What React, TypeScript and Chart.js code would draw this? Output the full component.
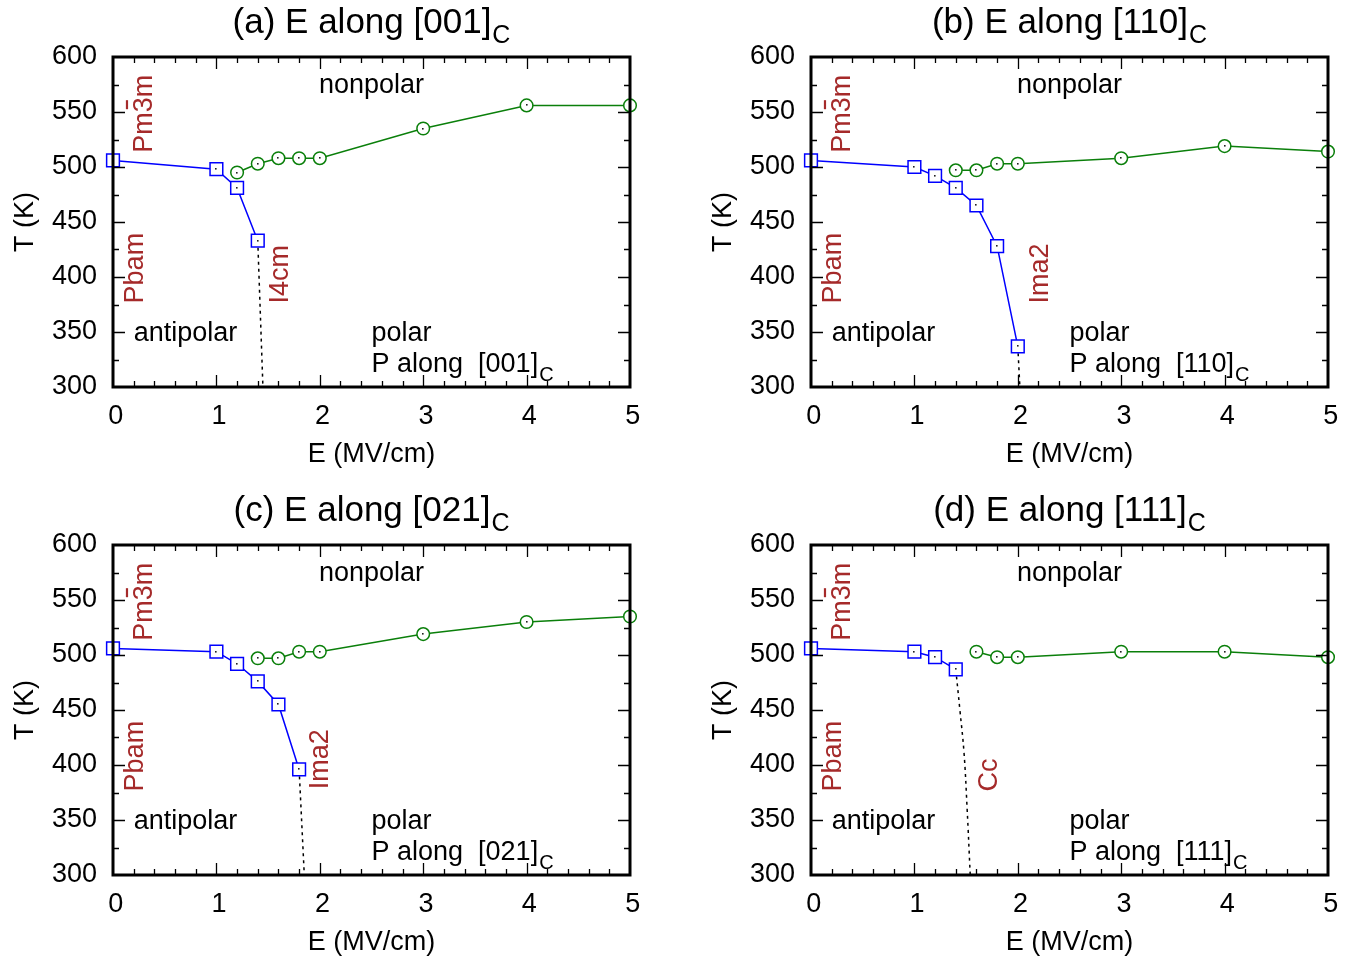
import React, { useEffect, useRef } from "react";
import { Chart, registerables } from "chart.js";

Chart.register(...registerables);

// ---------- data ----------
// Panel (a) E along [001]C
const aBlueE = [0, 1, 1.2, 1.4];
const aBlueT = [506, 498, 481, 433];
const aGreenE = [1.2, 1.4, 1.6, 1.8, 2, 3, 4, 5];
const aGreenT = [495, 503, 508, 508, 508, 535, 556, 556];
const aDotE = [1.4, 1.45];
const aDotT = [433, 300];

// Panel (b) E along [110]C
const bBlueE = [0, 1, 1.2, 1.4, 1.6, 1.8, 2];
const bBlueT = [506, 500, 492, 481, 465, 428, 337];
const bGreenE = [1.4, 1.6, 1.8, 2, 3, 4, 5];
const bGreenT = [497, 497, 503, 503, 508, 519, 514];
const bDotE = [2, 2.02];
const bDotT = [337, 300];

// Panel (c) E along [021]C
const cBlueE = [0, 1, 1.2, 1.4, 1.6, 1.8];
const cBlueT = [506, 503, 492, 476, 455, 396];
const cGreenE = [1.4, 1.6, 1.8, 2, 3, 4, 5];
const cGreenT = [497, 497, 503, 503, 519, 530, 535];
const cDotE = [1.8, 1.85];
const cDotT = [396, 300];

// Panel (d) E along [111]C
const dBlueE = [0, 1, 1.2, 1.4];
const dBlueT = [506, 503, 498, 487];
const dGreenE = [1.6, 1.8, 2, 3, 4, 5];
const dGreenT = [503, 498, 498, 503, 503, 498];
const dDotE = [1.4, 1.44, 1.48, 1.51, 1.54];
const dDotT = [487, 450, 411, 360, 300];

const E_MIN = 0;
const E_MAX = 5;
const E_STEP = 1;
const E_MINOR = 0.2;
const T_MIN = 300;
const T_MAX = 600;
const T_STEP = 50;
const T_MINOR = 25;

const TITLES = ["(a) E along [001]", "(b) E along [110]", "(c) E along [021]", "(d) E along [111]"];
const POLAR_DIRS = ["P along  [001]", "P along  [110]", "P along  [021]", "P along  [111]"];
const PHASE_LABELS = ["I4cm", "Ima2", "Ima2", "Cc"];

// ---------- styles ----------
const FONT = '"Liberation Sans", Arial, Helvetica, sans-serif';
const BLUE = "#0000ff";
const GREEN = "#0a7f0a";
const BROWN = "#a52a2a";

const W = 664;
const H = 473;

type Ann = {
  text: string;
  x: number;
  y: number;
  rot?: boolean;
  align?: CanvasTextAlign;
  color?: string;
  sub?: string;
  bar?: [string, string];
};

const pts = (xs: number[], ys: number[]) => xs.map((x, i) => ({ x, y: ys[i] }));

const phasePos = [
  { x: 1.69, y: 376 },
  { x: 2.29, y: 376 },
  { x: 2.08, y: 378 },
  { x: 1.8, y: 376 },
];

function annotations(i: number): Ann[] {
  return [
    { text: "nonpolar", x: 2.5, y: 567, align: "center" },
    { text: "antipolar", x: 0.2, y: 342, align: "left" },
    { text: "polar", x: 2.5, y: 342, align: "left" },
    { text: POLAR_DIRS[i], x: 2.5, y: 314, align: "left", sub: "C" },
    { text: "Pm3m", x: 0.377, y: 513, rot: true, color: BROWN, bar: ["Pm", "3"] },
    { text: "Pbam", x: 0.29, y: 376, rot: true, color: BROWN },
    { text: PHASE_LABELS[i], x: phasePos[i].x, y: phasePos[i].y, rot: true, color: BROWN },
  ];
}

const decorPlugin = {
  id: "decor",
  afterDatasetsDraw(chart: any) {
    const ctx: CanvasRenderingContext2D = chart.ctx;
    const xs = chart.scales.x;
    const ys = chart.scales.y;
    const { left, right, top, bottom } = chart.chartArea;
    const pcfg = chart.options.plugins.decor;

    // centre dots in markers
    chart.data.datasets.forEach((ds: any, di: number) => {
      if (!ds.dot) return;
      const meta = chart.getDatasetMeta(di);
      ctx.save();
      ctx.fillStyle = "#222";
      meta.data.forEach((el: any) => {
        ctx.fillRect(Math.round(el.x) - 1, Math.round(el.y) - 1, 1.6, 1.6);
      });
      ctx.restore();
    });

    // border
    ctx.save();
    ctx.strokeStyle = "#000";
    ctx.lineWidth = 3;
    ctx.strokeRect(left, top, right - left, bottom - top);

    // ticks
    ctx.lineWidth = 1.3;
    ctx.beginPath();
    const nx = Math.round((E_MAX - E_MIN) / E_MINOR);
    for (let i = 1; i < nx; i++) {
      const v = E_MIN + i * E_MINOR;
      const px = Math.round(xs.getPixelForValue(v)) + 0.5;
      const len = i % Math.round(E_STEP / E_MINOR) === 0 ? 12 : 6;
      ctx.moveTo(px, bottom);
      ctx.lineTo(px, bottom - len);
      ctx.moveTo(px, top);
      ctx.lineTo(px, top + len);
    }
    const ny = Math.round((T_MAX - T_MIN) / T_MINOR);
    for (let i = 1; i < ny; i++) {
      const v = T_MIN + i * T_MINOR;
      const py = Math.round(ys.getPixelForValue(v)) + 0.5;
      const len = i % Math.round(T_STEP / T_MINOR) === 0 ? 12 : 6;
      ctx.moveTo(left, py);
      ctx.lineTo(left + len, py);
      ctx.moveTo(right, py);
      ctx.lineTo(right - len, py);
    }
    ctx.stroke();
    ctx.restore();

    // annotations
    const anns: Ann[] = pcfg.anns;
    anns.forEach((a) => {
      const px = xs.getPixelForValue(a.x);
      const py = ys.getPixelForValue(a.y);
      ctx.save();
      ctx.fillStyle = a.color || "#000";
      ctx.strokeStyle = a.color || "#000";
      ctx.font = `27px ${FONT}`;
      ctx.textBaseline = "alphabetic";
      if (a.rot) {
        ctx.translate(px, py);
        ctx.rotate(-Math.PI / 2);
        ctx.textAlign = "left";
        ctx.fillText(a.text, 0, 0);
        if (a.bar) {
          const w0 = ctx.measureText(a.bar[0]).width;
          const w1 = ctx.measureText(a.bar[1]).width;
          ctx.lineWidth = 2.2;
          ctx.beginPath();
          ctx.moveTo(w0 + w1 * 0.2, -25);
          ctx.lineTo(w0 + w1 * 0.8, -25);
          ctx.stroke();
        }
      } else {
        ctx.textAlign = a.align || "left";
        ctx.fillText(a.text, px, py);
        if (a.sub) {
          const w = ctx.measureText(a.text).width;
          ctx.font = `20px ${FONT}`;
          ctx.textAlign = "left";
          ctx.fillText(a.sub, px + w + 1, py + 9);
        }
      }
      ctx.restore();
    });

    // title with subscript
    ctx.save();
    ctx.fillStyle = "#000";
    ctx.textBaseline = "alphabetic";
    ctx.textAlign = "left";
    ctx.font = `35px ${FONT}`;
    const main: string = pcfg.title;
    const w1 = ctx.measureText(main).width;
    ctx.font = `25px ${FONT}`;
    const w2 = ctx.measureText("C").width;
    const cx = (left + right) / 2;
    const x0 = cx - (w1 + w2 + 1) / 2;
    ctx.font = `35px ${FONT}`;
    ctx.fillText(main, x0, 33);
    ctx.font = `25px ${FONT}`;
    ctx.fillText("C", x0 + w1 + 1, 43);
    ctx.restore();
  },
};

type PanelData = {
  blue: { x: number; y: number }[];
  green: { x: number; y: number }[];
  dotted: { x: number; y: number }[];
  curved?: boolean;
};

const PANELS: PanelData[] = [
  { blue: pts(aBlueE, aBlueT), green: pts(aGreenE, aGreenT), dotted: pts(aDotE, aDotT) },
  { blue: pts(bBlueE, bBlueT), green: pts(bGreenE, bGreenT), dotted: pts(bDotE, bDotT) },
  { blue: pts(cBlueE, cBlueT), green: pts(cGreenE, cGreenT), dotted: pts(cDotE, cDotT) },
  { blue: pts(dBlueE, dBlueT), green: pts(dGreenE, dGreenT), dotted: pts(dDotE, dDotT), curved: true },
];

function Panel({ idx, left, top }: { idx: number; left: number; top: number }) {
  const ref = useRef<HTMLCanvasElement | null>(null);
  useEffect(() => {
    const p = PANELS[idx];
    const tickFont = { family: FONT, size: 27 };
    const chart = new Chart(ref.current as HTMLCanvasElement, {
      type: "scatter",
      data: {
        datasets: [
          {
            data: p.blue,
            showLine: true,
            borderColor: BLUE,
            borderWidth: 1.5,
            pointStyle: "rect",
            pointRadius: 9,
            pointBorderWidth: 1.5,
            pointBorderColor: BLUE,
            pointBackgroundColor: "#fff",
            clip: false,
            dot: true,
          } as any,
          {
            data: p.green,
            showLine: true,
            borderColor: GREEN,
            borderWidth: 1.5,
            pointStyle: "circle",
            pointRadius: 6.3,
            pointBorderWidth: 1.5,
            pointBorderColor: GREEN,
            pointBackgroundColor: "#fff",
            clip: false,
            dot: true,
          } as any,
          {
            data: p.dotted,
            showLine: true,
            borderColor: "#000",
            borderWidth: 1.5,
            borderDash: [3, 4],
            pointRadius: 0,
            tension: p.curved ? 0.4 : 0,
          } as any,
        ],
      },
      options: {
        animation: false,
        responsive: false,
        events: [],
        layout: { padding: { top: 57, right: 34, left: 0, bottom: 0 } },
        plugins: {
          legend: { display: false },
          tooltip: { enabled: false },
          decor: { title: TITLES[idx], anns: annotations(idx) },
        } as any,
        scales: {
          x: {
            type: "linear",
            min: E_MIN,
            max: E_MAX,
            ticks: {
              stepSize: E_STEP,
              font: tickFont,
              color: "#000",
              padding: 13,
              maxRotation: 0,
              autoSkip: false,
              callback: (v: any) => "\u2009" + v,
            },
            grid: { display: false, drawTicks: false },
            border: { display: false },
            title: { display: true, text: "E (MV/cm)", font: tickFont, color: "#000", padding: { top: 0, bottom: 2 } },
            afterFit: (s: any) => {
              s.height = 86;
            },
          },
          y: {
            type: "linear",
            min: T_MIN,
            max: T_MAX,
            ticks: { stepSize: T_STEP, font: tickFont, color: "#000", padding: 16 },
            grid: { display: false, drawTicks: false },
            border: { display: false },
            title: { display: true, text: "T (K)", font: tickFont, color: "#000", padding: { top: 9, bottom: 0 } },
            afterFit: (s: any) => {
              s.width = 113;
            },
          },
        },
      },
      plugins: [decorPlugin as any],
    });
    return () => chart.destroy();
  }, [idx]);
  return (
    <canvas
      ref={ref}
      width={W}
      height={H}
      style={{ position: "absolute", left, top, width: W, height: H }}
    />
  );
}

export default function App() {
  return (
    <div
      style={{
        position: "absolute",
        left: 0,
        top: 0,
        width: 1362,
        height: 961,
        overflow: "hidden",
        background: "#fff",
      }}
    >
      <Panel idx={0} left={0} top={0} />
      <Panel idx={1} left={698} top={0} />
      <Panel idx={2} left={0} top={488} />
      <Panel idx={3} left={698} top={488} />
    </div>
  );
}
